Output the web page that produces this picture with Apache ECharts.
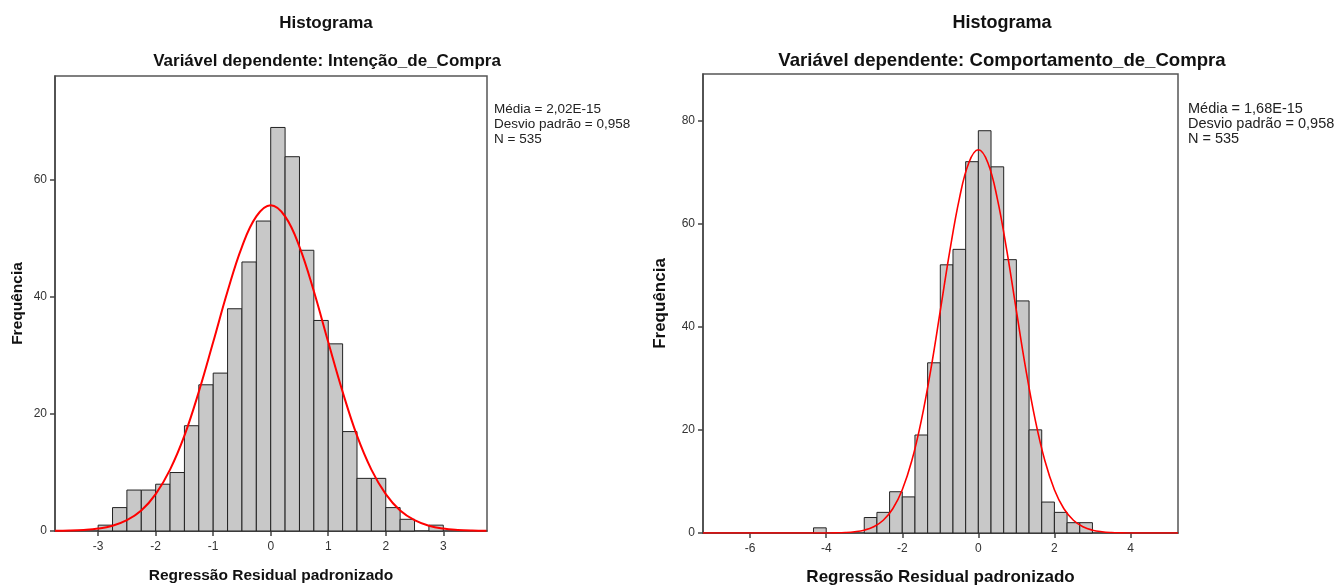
<!DOCTYPE html>
<html>
<head>
<meta charset="utf-8">
<script src="https://cdn.jsdelivr.net/npm/echarts@6/dist/echarts.min.js"></script>
<style>
html, body { margin: 0; padding: 0; background: #fff; }
#main { width: 1338px; height: 586px; }
</style>
</head>
<body>
<div id="main"></div>
<script>
// histograma esquerdo: Intenção_de_Compra (classes de 0,25 a partir de -3)
var leftBinStart = -3;
var leftBinWidth = 0.25;
var leftCounts = [1, 4, 7, 7, 8, 10, 18, 25, 27, 38, 46, 53, 69, 64, 48, 36, 32, 17, 9, 9, 4, 2, 0, 1];
var leftCurveX = [-3.75, -3.5, -3.25, -3, -2.75, -2.5, -2.25, -2, -1.75, -1.5, -1.25, -1, -0.75, -0.5, -0.25, 0,
    0.25, 0.5, 0.75, 1, 1.25, 1.5, 1.75, 2, 2.25, 2.5, 2.75, 3, 3.25, 3.5, 3.75];
var leftCurveY = [0.03, 0.07, 0.18, 0.41, 0.9, 1.85, 3.5, 6.3, 10.5, 16.3, 23.8, 32.3, 41.0, 48.6, 53.8, 55.7,
    53.8, 48.6, 41.0, 32.3, 23.8, 16.3, 10.5, 6.3, 3.5, 1.85, 0.9, 0.41, 0.18, 0.07, 0.03];
var leftXTicks = [-3, -2, -1, 0, 1, 2, 3];
var leftYTicks = [0, 20, 40, 60];

// histograma direito: Comportamento_de_Compra (classes de 1/3 a partir de -4,333)
var rightBinStart = -13 / 3;
var rightBinWidth = 1 / 3;
var rightCounts = [1, 0, 0, 0, 3, 4, 8, 7, 19, 33, 52, 55, 72, 78, 71, 53, 45, 20, 6, 4, 2, 2];
var rightCurveX = [-7.24, -4.5, -4.25, -4, -3.75, -3.5, -3.25, -3, -2.75, -2.5, -2.25, -2, -1.75, -1.5, -1.25, -1,
    -0.75, -0.5, -0.25, 0, 0.25, 0.5, 0.75, 1, 1.25, 1.5, 1.75, 2, 2.25, 2.5, 2.75, 3, 3.25, 3.5, 3.75, 4, 4.25, 4.5, 5.25];
var rightCurveY = [0, 0, 0.005, 0.01, 0.03, 0.09, 0.24, 0.55, 1.21, 2.47, 4.7, 8.4, 14.0, 21.8, 31.7, 43.1,
    54.7, 64.8, 71.8, 74.3, 71.8, 64.8, 54.7, 43.1, 31.7, 21.8, 14.0, 8.4, 4.7, 2.47, 1.21, 0.55, 0.24, 0.09, 0.03, 0.01, 0.005, 0, 0];
var rightXTicks = [-6, -4, -2, 0, 2, 4];
var rightYTicks = [0, 20, 40, 60, 80];

var leftStats = ['Média = 2,02E-15', 'Desvio padrão = 0,958', 'N = 535'];
var rightStats = ['Média = 1,68E-15', 'Desvio padrão = 0,958', 'N = 535'];

var FONT = '"Liberation Sans", Arial, sans-serif';

var binsData = function(start, width, counts) {
    var out = [];
    for (var i = 0; i < counts.length; i++) {
        var lo = start + i * width;
        out.push([lo, lo + width, counts[i]]);
    }
    return out;
};

var pairs = function(xs, ys) {
    return xs.map(function(x, i) { return [x, ys[i]]; });
};

var renderBar = function(params, api) {
    var c = api.value(2);
    if (!c) return null;
    var p0 = api.coord([api.value(0), 0]);
    var p1 = api.coord([api.value(1), c]);
    return {
        type: 'rect',
        shape: { x: p0[0], y: p1[1], width: p1[0] - p0[0], height: p0[1] - p1[1] },
        style: { fill: '#c8c8c8', stroke: '#222', lineWidth: 1 }
    };
};

var makeXAxis = function(idx, min, max, ticks, nameSize, gap) {
    return {
        type: 'value', gridIndex: idx, min: min, max: max,
        name: 'Regressão Residual padronizado', nameLocation: 'middle', nameGap: gap,
        nameTextStyle: { fontFamily: FONT, fontSize: nameSize, fontWeight: 'bold', color: '#111' },
        axisLine: { onZero: false, lineStyle: { color: '#444', width: 1.5 } },
        axisTick: { show: true, length: 5, customValues: ticks, lineStyle: { color: '#444', width: 1.5 } },
        axisLabel: { customValues: ticks, fontFamily: FONT, fontSize: 12, color: '#333', margin: 10 },
        splitLine: { show: false }
    };
};

var makeYAxis = function(idx, max, ticks, nameSize, gap) {
    return {
        type: 'value', gridIndex: idx, min: 0, max: max,
        name: 'Frequência', nameLocation: 'middle', nameGap: gap,
        nameTextStyle: { fontFamily: FONT, fontSize: nameSize, fontWeight: 'bold', color: '#111' },
        axisLine: { show: true, onZero: false, lineStyle: { color: '#444', width: 1.5 } },
        axisTick: { show: true, length: 5, customValues: ticks, lineStyle: { color: '#444', width: 1.5 } },
        axisLabel: { customValues: ticks, fontFamily: FONT, fontSize: 12, color: '#333', margin: 8 },
        splitLine: { show: false }
    };
};

var titleStyle = function(size) {
    return { fontFamily: FONT, fontSize: size, fontWeight: 'bold', color: '#111' };
};
var statStyle = function(size) {
    return { fontFamily: FONT, fontSize: size, fill: '#222', lineHeight: 15 };
};

var chart = echarts.init(document.getElementById('main'));
chart.setOption({
    animation: false,
    backgroundColor: '#fff',
    title: [
        { text: 'Histograma', left: 321, top: 10, textAlign: 'center', textStyle: titleStyle(17) },
        { text: 'Variável dependente: Intenção_de_Compra', left: 322, top: 48, textAlign: 'center', textStyle: titleStyle(17) },
        { text: 'Histograma', left: 997, top: 9, textAlign: 'center', textStyle: titleStyle(18) },
        { text: 'Variável dependente: Comportamento_de_Compra', left: 997, top: 46, textAlign: 'center', textStyle: titleStyle(18.6) }
    ],
    grid: [
        { left: 55, top: 76, width: 432, height: 455, show: true, borderColor: '#555', borderWidth: 1.5,
          outerBoundsMode: 'none', containLabel: false },
        { left: 703, top: 74, width: 475, height: 459, show: true, borderColor: '#555', borderWidth: 1.5,
          outerBoundsMode: 'none', containLabel: false }
    ],
    xAxis: [
        makeXAxis(0, -3.75, 3.76, leftXTicks, 15.5, 37),
        makeXAxis(1, -7.24, 5.25, rightXTicks, 17, 36)
    ],
    yAxis: [
        makeYAxis(0, 77.8, leftYTicks, 15.5, 29),
        makeYAxis(1, 89, rightYTicks, 17, 34)
    ],
    graphic: [
        { type: 'text', left: 494, top: 102, style: Object.assign({ text: leftStats.join('\n') }, statStyle(13.5)) },
        { type: 'text', left: 1188, top: 101, style: Object.assign({ text: rightStats.join('\n') }, statStyle(14.5)) }
    ],
    series: [
        {
            type: 'custom', xAxisIndex: 0, yAxisIndex: 0,
            renderItem: renderBar, encode: { x: [0, 1], y: 2 },
            data: binsData(leftBinStart, leftBinWidth, leftCounts)
        },
        {
            type: 'line', xAxisIndex: 0, yAxisIndex: 0, smooth: 0.4, showSymbol: false, z: 5,
            lineStyle: { color: '#ff0000', width: 2 },
            data: pairs(leftCurveX, leftCurveY)
        },
        {
            type: 'custom', xAxisIndex: 1, yAxisIndex: 1,
            renderItem: renderBar, encode: { x: [0, 1], y: 2 },
            data: binsData(rightBinStart, rightBinWidth, rightCounts)
        },
        {
            type: 'line', xAxisIndex: 1, yAxisIndex: 1, smooth: 0.4, showSymbol: false, z: 5,
            lineStyle: { color: '#ff0000', width: 1.6 },
            data: pairs(rightCurveX, rightCurveY)
        }
    ]
});
</script>
</body>
</html>
